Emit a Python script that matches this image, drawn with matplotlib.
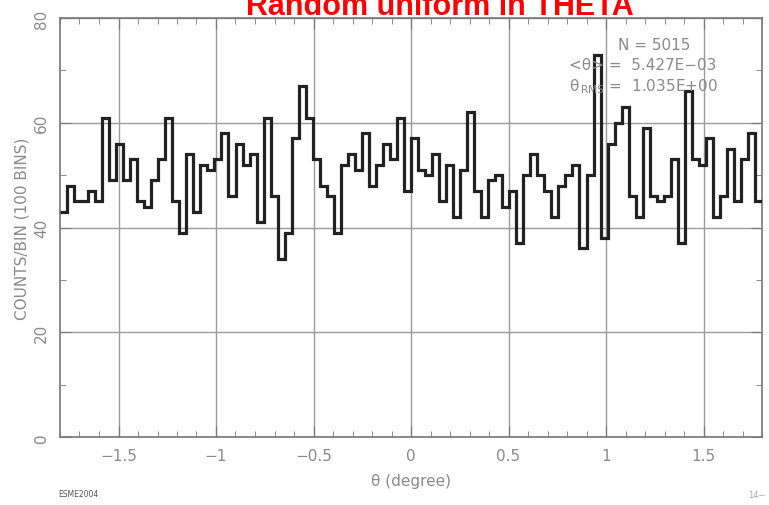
import numpy as np
import matplotlib
matplotlib.use("Agg")
import matplotlib.pyplot as plt
from matplotlib.ticker import MultipleLocator

# counts per bin, 100 bins over -1.8 .. 1.8
counts = [43, 48, 45, 45, 47, 45, 61, 49, 56, 49,
          53, 45, 44, 49, 53, 61, 45, 39, 54, 43,
          52, 51, 53, 58, 46, 56, 52, 54, 41, 61,
          46, 34, 39, 57, 67, 61, 53, 48, 46, 39,
          52, 54, 51, 58, 48, 52, 56, 53, 61, 47,
          57, 51, 50, 54, 45, 52, 42, 51, 62, 47,
          42, 49, 50, 44, 47, 37, 50, 54, 50, 47,
          42, 48, 50, 52, 36, 50, 73, 38, 56, 60,
          63, 46, 42, 59, 46, 45, 46, 53, 37, 66,
          53, 52, 57, 42, 46, 55, 45, 53, 58, 45]
x_lo, x_hi = -1.8, 1.8
x_ticks = [-1.5, -1, -0.5, 0, 0.5, 1, 1.5]
x_tick_labels = ["\u22121.5", "\u22121", "\u22120.5", "0", "0.5", "1", "1.5"]
y_ticks = [0, 20, 40, 60, 80]
stats = ["N = 5015", "<\u03b8> =  5.427E\u221203", "\u03b8$_{\\,\\rm RMS}$ =  1.035E+00"]

GRAY = "#8a8a8a"

fig = plt.figure(figsize=(7.69, 5.06), dpi=100)
ax = fig.add_axes([60/769, 68/506, 702/769, 419/506])

edges = np.linspace(x_lo, x_hi, len(counts) + 1)
ax.stairs(counts, edges, baseline=None, color="#222222", linewidth=2.3, zorder=3)

ax.set_xlim(x_lo, x_hi)
ax.set_ylim(0, 80)
ax.set_xticks(x_ticks)
ax.set_xticklabels(x_tick_labels)
ax.set_yticks(y_ticks)
ax.xaxis.set_minor_locator(MultipleLocator(0.1))
ax.yaxis.set_minor_locator(MultipleLocator(10))
ax.grid(True, which="major", color="#9a9a9a", linewidth=1.0, zorder=1)

for s in ax.spines.values():
    s.set_color("#777777")
    s.set_linewidth(1.2)

ax.tick_params(which="both", direction="in", top=True, right=True, colors="#777777",
               labelcolor=GRAY, labelsize=11)
ax.tick_params(which="major", length=8, pad=8)
ax.tick_params(which="minor", length=4)
for lab in ax.get_yticklabels():
    lab.set_rotation(90)
    lab.set_va("center")

ax.set_xlabel("\u03b8 (degree)", color=GRAY, fontsize=11, labelpad=7)
ax.set_ylabel("COUNTS/BIN (100 BINS)", color=GRAY, fontsize=11, labelpad=3)

ax.text(0.795, 0.925, stats[0], transform=ax.transAxes, color=GRAY, fontsize=11)
ax.text(0.725, 0.878, stats[1], transform=ax.transAxes, color=GRAY, fontsize=11)
ax.text(0.725, 0.828, stats[2], transform=ax.transAxes, color=GRAY, fontsize=11)

fig.text(440/769, 1 - 15/506, "Random uniform in THETA", color="red", fontsize=22,
         fontweight="bold", ha="center", va="baseline", family="Liberation Sans")
fig.text(58/769, 1 - 497/506, "ESME2004", color="#555555", fontsize=5.5)
fig.text(748/769, 1 - 498/506, "14\u2212", color="#aaaaaa", fontsize=6)

fig.savefig("out.png", dpi=100)
